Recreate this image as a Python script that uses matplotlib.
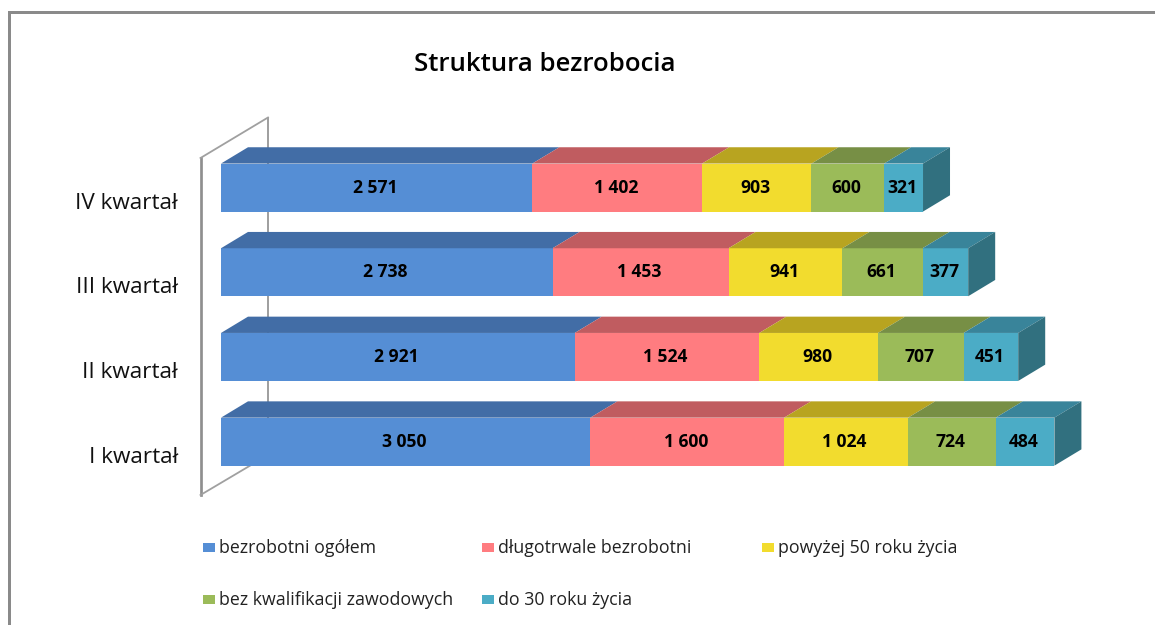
import matplotlib
matplotlib.use("Agg")
import matplotlib.pyplot as plt
from matplotlib.lines import Line2D
from matplotlib.patches import Polygon, Rectangle
from matplotlib.transforms import Affine2D, ScaledTranslation

W, H = 1155, 625
SKALA = 0.1211  # pikseli na jednostke

kwartaly = ["I kwartał", "II kwartał", "III kwartał", "IV kwartał"]
ogolem = [3050, 2921, 2738, 2571]
dlugotrwale = [1600, 1524, 1453, 1402]
powyzej_50 = [1024, 980, 941, 903]
bez_kwalifikacji = [724, 707, 661, 600]
do_30 = [484, 451, 377, 321]

nazwy = ["bezrobotni ogółem", "długotrwale bezrobotni", "powyżej 50 roku życia",
         "bez kwalifikacji zawodowych", "do 30 roku życia"]
serie = [ogolem, dlugotrwale, powyzej_50, bez_kwalifikacji, do_30]
kolory = ["#558ed5", "#ff7c80", "#f2dc2e", "#9bbb59", "#4bacc6"]
gora = ["#426da6", "#c05c60", "#b8a420", "#778f45", "#39849a"]
bok = "#31707f"

plt.rcParams["font.family"] = ["Open Sans", "DejaVu Sans"]

fig = plt.figure(figsize=(W / 100, H / 100), dpi=100)
px = Affine2D().scale(1, -1).translate(0, H)  # piksele liczone od gory

ax = fig.add_axes([221 / W, (H - 484) / H, (W - 221) / W, (484 - 145.2) / H])
ax.set_zorder(2)
ax.set_xlim(0, (W - 221) / SKALA)
ax.set_ylim(-0.5, 3.5)
ax.patch.set_visible(False)
for s in ax.spines.values():
    s.set_visible(False)
ax.set_xticks([])
ax.set_yticks(range(len(kwartaly)), kwartaly, fontsize=16.2, color="#111111")
ax.tick_params(axis="y", length=0, pad=31)
for lab in ax.get_yticklabels():
    lab.set_transform(lab.get_transform() + ScaledTranslation(0, -13 / 100, fig.dpi_scale_trans))

# ramka i sciana wykresu
for xs, ys, lw, c in [([8.7, 8.7], [625, 11.5], 3, "#8a8a8a"), ([8.7, 1155], [11.5, 11.5], 3, "#8a8a8a"),
                      ([200.5, 200.5], [158, 495], 2.7, "#8f8f8f"), ([200.5, 268], [158, 117.5], 1.8, "#a0a0a0"),
                      ([268, 268], [117.5, 455], 2, "#a0a0a0"), ([200.5, 268], [495, 455], 1.8, "#a0a0a0")]:
    fig.add_artist(Line2D(xs, ys, transform=px, color=c, lw=lw * 0.72, zorder=0))

wys = 48 / 84.7
dx = 27 / SKALA
dy = 16.3 / 84.7
lewo = [0] * len(kwartaly)
for seria, kol, g in zip(serie, kolory, gora):
    ax.barh(range(len(kwartaly)), seria, height=wys, left=lewo, color=kol, zorder=3)
    for i, v in enumerate(seria):
        x0, x1 = lewo[i], lewo[i] + v
        t = i + wys / 2
        ax.add_patch(Polygon([(x0, t), (x0 + dx, t + dy), (x1 + dx, t + dy), (x1, t)],
                             color=g, lw=0, zorder=3, clip_on=False))
        if seria is do_30:
            b = i - wys / 2
            ax.add_patch(Polygon([(x1, t), (x1 + dx, t + dy), (x1 + dx, b + dy), (x1, b)],
                                 color=bok, lw=0, zorder=3, clip_on=False))
        etykieta = f"{v:,}".replace(",", " ")
        ax.text((x0 + x1) / 2 - 1.5 / SKALA, i, etykieta, ha="center", va="center", fontsize=12.6,
                fontweight="bold", color="black", zorder=5)
        lewo[i] = x1

fig.text(545 / W, 1 - 64.5 / H, "Struktura bezrobocia", ha="center", va="center",
         fontsize=18.5, fontweight="semibold", color="black")

# legenda
pozycje = [(203, 547.5), (482, 547.5), (762, 547.5), (203, 599.5), (482, 599.5)]
for (x, y), nazwa, kol in zip(pozycje, nazwy, kolory):
    fig.add_artist(Rectangle((x, y - 4.5), 12, 9, transform=px, color=kol, lw=0))
    fig.text((x + 16) / W, 1 - (y + 0.5) / H, nazwa, ha="left", va="center", fontsize=12.8, color="#222222")

fig.savefig("out.png", dpi=100)
